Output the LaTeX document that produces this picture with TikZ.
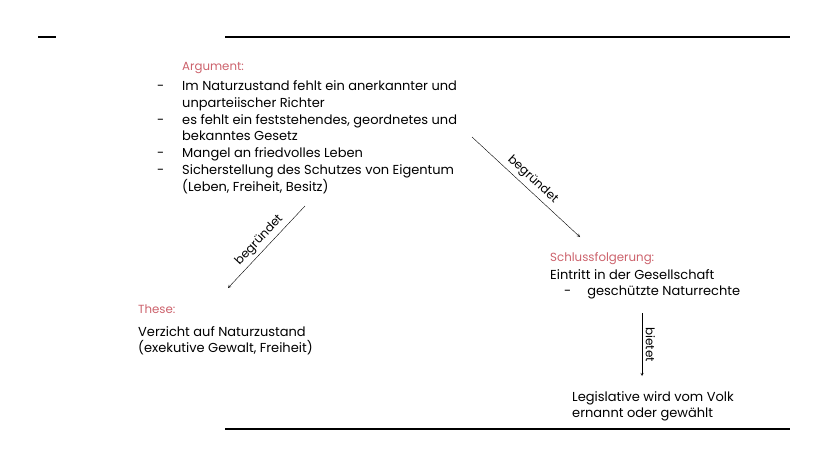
\documentclass[tikz,border=0pt]{standalone}
\usepackage{fontspec}
\setmainfont{Poppins}
\usetikzlibrary{positioning}
\definecolor{headred}{RGB}{204,98,108}
\tikzset{
	txt/.style={anchor=north west, inner sep=0pt, align=left, font=\fontsize{13}{16.7}\selectfont},
	head/.style={anchor=north west, inner sep=0pt, text=headred, font=\fontsize{11.8}{13}\selectfont},
	lbl/.style={font=\fontsize{12}{13}\selectfont, inner sep=3.5pt}
}
\begin{document}
\begin{tikzpicture}[x=1pt, y=-1pt, >=stealth]
	\useasboundingbox (0,0) rectangle (828,466);
	\draw[line width=1.3pt] (38,37) -- (56,37);
	\draw[line width=2.6pt] (225,37) -- (790,37);
	\draw[line width=1.5pt] (225,429) -- (790,429);

	\node (arghead) [head] at (182,62) {Argument:};
	\node (arg) [txt] at (157,79) {\begin{tabular}{@{}p{25pt}@{}l@{}}
		- & Im Naturzustand fehlt ein anerkannter und\\
		  & unparteiischer Richter\\
		- & es fehlt ein feststehendes, geordnetes und\\
		  & bekanntes Gesetz\\
		- & Mangel an friedvolles Leben\\
		- & Sicherstellung des Schutzes von Eigentum\\
		  & (Leben, Freiheit, Besitz)
	\end{tabular}};
	\node (thesehead) [head] at (138,305) {These:};
	\node (these) [txt] at (138,326) {Verzicht auf Naturzustand\\(exekutive Gewalt, Freiheit)};
	\node (schlusshead) [head] at (550,252) {Schlussfolgerung:};
	\node (schluss) [txt] at (550,269) {Eintritt in der Gesellschaft\\\hspace*{14pt}-\hspace*{16pt}geschützte Naturrechte};
	\node (legis) [txt] at (572,391) {Legislative wird vom Volk\\ernannt oder gewählt};

	\coordinate (a1) at (305,206);
	\coordinate (t1) at (228,288);
	\coordinate (a2) at (472,137);
	\coordinate (s2) at (580,237);
	\coordinate (s3) at (642,313);
	\coordinate (l3) at (642,376);

	\draw[->] (a1) -- node[lbl, sloped, above] {begründet} (t1);
	\draw[->] (a2) -- node[lbl, sloped, above] {begründet} (s2);
	\draw[->] (s3) -- node[lbl, sloped, above] {bietet} (l3);
\end{tikzpicture}
\end{document}
